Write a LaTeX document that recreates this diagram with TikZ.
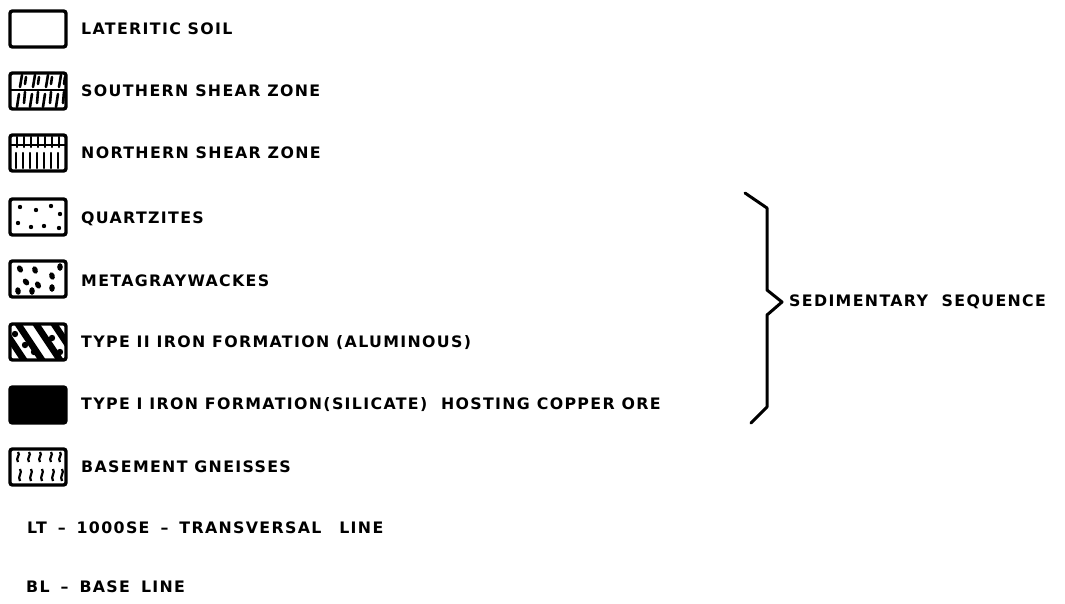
\documentclass[tikz,border=0pt]{standalone}
\usepackage{fontspec}
\newfontfamily\lab[LetterSpace=8.5]{DejaVu Sans Bold}
\tikzset{
  sw/.style={draw=black, line width=3.4pt, rounded corners=2.5pt},
  lbl/.style={anchor=west, inner sep=0pt, font=\lab\fontsize{15.8}{16}\selectfont},
  pat/.style={line width=2.6pt, line cap=round},
}
\newcommand{\gap}{\hspace{11pt}}
\begin{document}
\begin{tikzpicture}[x=1pt,y=-1pt]
\useasboundingbox (0,0) rectangle (1065,603);
% boxes
\node[sw, minimum width=56pt, minimum height=36pt, anchor=center] (b1) at (38,29) {};
\node[sw, minimum width=56pt, minimum height=36pt, anchor=center] (b2) at (38,91) {};
\node[sw, minimum width=56pt, minimum height=36pt, anchor=center] (b3) at (38,153) {};
\node[sw, minimum width=56pt, minimum height=36pt, anchor=center] (b4) at (38,217) {};
\node[sw, minimum width=56pt, minimum height=36pt, anchor=center] (b5) at (38,279) {};
\node[sw, minimum width=56pt, minimum height=36pt, anchor=center] (b6) at (38,342) {};
\node[sw, fill=black, minimum width=56pt, minimum height=36pt, anchor=center] (b7) at (38,405) {};
\node[sw, minimum width=56pt, minimum height=36pt, anchor=center] (b8) at (38,467) {};
% southern shear zone pattern
\begin{scope}[shift={(b2.center)}]
 \clip (-27,-17) rectangle (27,17);
 \foreach \x in {-18,-5,8,21}{
   \draw[pat] (\x+2,-16) -- (\x,-4);
   \draw[pat] (\x-1,3) -- (\x-3,16);
   \draw[pat] (\x+6,-14) -- (\x+5,-7);
   \draw[pat] (\x+5,1) -- (\x+4,12);
 }
 \draw[line width=1.6pt] (-27,-1) -- (27,-1);
\end{scope}
% northern shear zone pattern
\begin{scope}[shift={(b3.center)}]
 \clip (-27,-17) rectangle (27,17);
 \foreach \x in {-21,-14,...,26}{
   \draw[pat, line width=2.3pt] (\x,-16) -- (\x,-6);
   \draw[pat, line width=2.3pt] (\x-1,0) -- (\x-1,15);
 }
 \draw[line width=1.8pt] (-27,-8) -- (27,-8);
\end{scope}
% quartzites dots
\begin{scope}[shift={(b4.center)}]
 \foreach \p in {(-18,-10),(-2,-7),(13,-11),(22,-3),(-20,6),(-7,10),(6,9),(21,11)}
   \fill \p circle (2.2pt);
\end{scope}
% metagraywackes blobs
\begin{scope}[shift={(b5.center)}]
 \foreach \p/\a in {(-18,-10)/30,(-3,-9)/20,(14,-3)/20,(-12,3)/40,(-20,12)/10,(0,6)/30,(-6,12)/0,(14,9)/0,(22,-12)/0}
   \fill[rotate around={\a:\p}] \p ellipse (2.8pt and 3.8pt);
\end{scope}
% type II iron formation
\begin{scope}[shift={(b6.center)}]
 \clip (-27,-17) rectangle (27,17);
 \foreach \x in {-42,-24,-6,12,30}
   \fill (\x,-18) -- (\x+8,-18) -- (\x+32,18) -- (\x+24,18) -- cycle;
 \foreach \p in {(-13,3),(-4,10),(14,-4),(22,10),(-23,-8)}
   \fill \p circle (3.2pt);
\end{scope}
% basement gneisses squiggles
\begin{scope}[shift={(b8.center)}]
 \clip (-27,-17) rectangle (27,17);
 \foreach \x in {-20,-9,2,13,22}{
   \draw[line width=2.2pt] (\x,-15) .. controls (\x+3,-12) and (\x-3,-9) .. (\x,-5);
   \draw[line width=2.2pt] (\x+2,2) .. controls (\x+5,6) and (\x-1,9) .. (\x+2,14);
 }
\end{scope}
% labels
\node[lbl] (t1) at (81,29) {LATERITIC SOIL};
\node[lbl] (t2) at (81,91) {SOUTHERN SHEAR ZONE};
\node[lbl] (t3) at (81,153) {NORTHERN SHEAR ZONE};
\node[lbl] (t4) at (81,219) {QUARTZITES};
\node[lbl] (t5) at (81,281) {METAGRAYWACKES};
\node[lbl] (t6) at (81,343) {TYPE II IRON FORMATION (ALUMINOUS)};
\node[lbl] (t7) at (81,405) {TYPE I IRON FORMATION(SILICATE)\ \ HOSTING COPPER ORE};
\node[lbl] (t8) at (81,467) {BASEMENT GNEISSES};
\node[lbl] (t9) at (27,528) {LT\gap–\gap1000SE\gap–\gap TRANSVERSAL\gap\ LINE};
\node[lbl] (t10) at (26,587) {BL\gap–\gap BASE\gap LINE};
% brace
\coordinate (bt) at (745,193);
\coordinate (bb) at (751,423);
\coordinate (tip) at (782,302);
\draw[line width=3pt, line join=round, line cap=round]
  (bt) -- (767,208) -- (767,290) -- (tip) -- (767,315) -- (767,407) -- (bb);
\node[lbl] (sed) at (789,302) {SEDIMENTARY\ \ SEQUENCE};
\end{tikzpicture}
\end{document}
